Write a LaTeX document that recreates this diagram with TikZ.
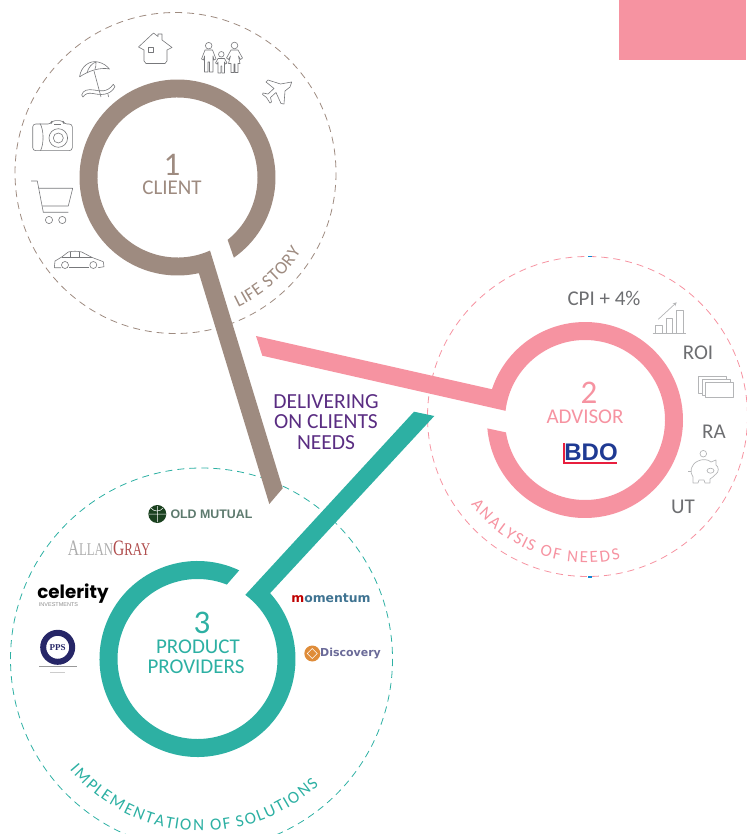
\documentclass[tikz,border=0pt]{standalone}
\usepackage{fontspec}
\setmainfont{Carlito}
\newfontfamily\logosans{DejaVu Sans}
\newfontfamily\logoarial{Liberation Sans}
\newfontfamily\logoserif{Liberation Serif}
\newfontfamily\logopop{Poppins}
\usetikzlibrary{calc}
\usetikzlibrary{decorations.text}
\usetikzlibrary{arrows}
\definecolor{clientcol}{HTML}{9E8B80}
\definecolor{advisorcol}{HTML}{F693A1}
\definecolor{providercol}{HTML}{2DB0A3}
\definecolor{deliverycol}{HTML}{5A2D82}
\definecolor{labelcol}{HTML}{6D6E71}
\definecolor{iconcol}{HTML}{77787B}
\definecolor{lighticon}{HTML}{B4B5B7}
\definecolor{bdoblue}{HTML}{1F3A93}
\definecolor{bdored}{HTML}{E81F3E}
\definecolor{mutualcol}{HTML}{5D7A6E}
\definecolor{momentcol}{HTML}{3F7391}
\definecolor{discovcol}{HTML}{6A6A98}
\tikzset{
  orbit/.style={line width=0.8pt, dash pattern=on 7pt off 5pt},
  bigdigit/.style={font=\fontsize{33}{33}\selectfont},
  ringname/.style={font=\fontsize{21}{21}\selectfont, align=center},
  metric/.style={font=\fontsize{21}{21}\selectfont, text=labelcol},
  icon/.style={draw=iconcol, line width=0.6pt, line join=round},
  paleicon/.style={draw=lighticon, line width=0.7pt, line join=round}
}
\begin{document}
\begin{tikzpicture}[x=1pt,y=-1pt]
\useasboundingbox (0,0) rectangle (746,834);
\def \rout {98}
\def \rin {80}

\coordinate (c1) at (177.5,177.5);
\coordinate (c2) at (585,420);
\coordinate (c3) at (197.5,659);
\coordinate (o1) at (175.5,173);
\coordinate (o2) at (587.5,416.5);
\coordinate (o3) at (201.5,659);

\fill[advisorcol] (619,0) rectangle (746,60);

% dashed orbits
\draw[orbit, clientcol] (o1) circle (160.5);
\draw[orbit, advisorcol] (o2) circle (160);
\draw[orbit, providercol] (o3) circle (191);
\fill[cyan!70!blue] (588,255.8) rectangle (592,257.2);
\fill[cyan!70!blue] (588,576.2) rectangle (592,577.6);

% rings with their arms
\fill[clientcol] ($(c1)+(54.9:\rout)$) arc[start angle=54.9, end angle=-282.6, radius=\rout]
  -- (269.3,504) -- (282.7,488.3) -- ($(c1)+(-294:\rin)$)
  arc[start angle=-294, end angle=51.2, radius=\rin] -- cycle;
\fill[advisorcol] ($(c2)+(-184.9:\rout)$) arc[start angle=-184.9, end angle=-521.7, radius=\rout]
  -- (256,336) -- (262.3,355.7) -- ($(c2)+(-173.4:\rin)$)
  arc[start angle=-173.4, end angle=171.1, radius=\rin] -- cycle;
\fill[providercol] ($(c3)+(-64.8:\rout)$) arc[start angle=-64.8, end angle=-402.2, radius=\rout]
  -- (434.3,416) -- (414,411.7) -- ($(c3)+(-53.3:\rin)$)
  arc[start angle=-53.3, end angle=291.5, radius=\rin] -- cycle;

% ring texts
\node[bigdigit, text=clientcol] (one) at (172,165) {1};
\node[ringname, text=clientcol] (client) at (172,188) {CLIENT};
\node[bigdigit, text=advisorcol] (two) at (589,393) {2};
\node[ringname, text=advisorcol] (advisor) at (585,417) {ADVISOR};
\node[bigdigit, text=providercol] (three) at (202,623) {3};
\node[ringname, text=providercol] (product) at (198,647) {PRODUCT};
\node[ringname, text=providercol] (providers) at (196,667) {PROVIDERS};
\node[ringname, text=deliverycol, font=\fontsize{21.5}{20.7}\selectfont] (delivering) at (326,422) {DELIVERING\\ON CLIENTS\\NEEDS};

% texts on the orbits
\path[decorate, decoration={text effects along path, text={LIFE STORY}, text effects/.cd, text along path, fit text to path,
  characters={text=clientcol, font=\fontsize{18}{18}\selectfont}}]
  ($(o1)+(65:148)$) arc[start angle=65, end angle=32, radius=148];
\path[decorate, decoration={text effects along path, text={ANALYSIS OF NEEDS}, text effects/.cd, text along path, fit text to path,
  characters={text=advisorcol, font=\fontsize{17}{17}\selectfont}}]
  ($(o2)+(143:146)$) arc[start angle=143, end angle=77, radius=146];
\path[decorate, decoration={text effects along path, text={IMPLEMENTATION OF SOLUTIONS}, text effects/.cd, text along path, fit text to path,
  characters={text=providercol, font=\fontsize{17}{17}\selectfont}}]
  ($(o3)+(140:172)$) arc[start angle=140, end angle=47, radius=172];

% advisor metrics
\node[metric] (cpi) at (604,298) {CPI + 4\%};
\node[metric] (roi) at (698,353) {ROI};
\node[metric] (ra) at (714,432) {RA};
\node[metric] (ut) at (683,507) {UT};

% bdo logo
\node[font=\logoarial\bfseries\fontsize{24}{24}\selectfont, text=bdoblue, inner sep=0pt] (bdo) at (591,452) {BDO};
\fill[bdored] (562.5,443) rectangle (565,463.5);
\fill[bdored] (562.5,461.5) rectangle (617,463.5);

% client icons
\draw[icon] (144,50) -- (138.5,47) -- (153.5,33) -- (158,36.5) -- (158,34) -- (162,34) -- (162,40) -- (172,47.5)
  -- (167,50) -- (167,61) -- (165,63.5) -- (146,63.5) -- (144,61) -- cycle;
\draw[icon] (148.5,47.5) rectangle (153.5,52.5);
\draw[icon] (208.7,45.7) circle (3.3);
\draw[icon] (205,50) -- (212.5,50) -- (216,59) -- (214,60) -- (213,56) -- (213,72) -- (209.5,72) -- (209.5,62)
  -- (208,62) -- (208,72) -- (204.5,72) -- (204.5,56) -- (203.5,60) -- (201.5,59) -- cycle;
\draw[icon] (234.5,45.5) circle (3.3);
\draw[icon] (231,50) -- (238,50) -- (242.5,58) -- (240.5,59.5) -- (238.5,56) -- (240,63.5) -- (238,63.5) -- (238,72.5)
  -- (235,72.5) -- (235,64) -- (234,64) -- (234,72.5) -- (231,72.5) -- (231,63.5) -- (228.5,63.5) -- (230.5,56)
  -- (228.5,59.5) -- (226.5,58) -- cycle;
\draw[icon] (221.3,54.3) circle (2.8);
\draw[icon] (218,58.5) -- (224.5,58.5) -- (227,63) -- (225.5,64) -- (224.5,62) -- (224.5,73) -- (221.8,73) -- (221.8,66)
  -- (220.8,66) -- (220.8,73) -- (218,73) -- (218,62) -- (217,64) -- (215.5,63) -- cycle;
\draw[icon] (291.7,82) -- (280.5,84) -- (268,80) -- (266,82) -- (274,88.5) -- (268,94) -- (263,93) -- (262.5,94.5)
  -- (266.5,97.5) -- (270,103) -- (271.5,102) -- (270.5,97.5) -- (276,92.5) -- (281,103.5) -- (284,104) -- (285,91)
  -- (290,87) -- cycle;
% umbrella
\draw[icon] (79.5,77) .. controls (81,66) and (90,60) .. (98,62) .. controls (103,63) and (107,66) .. (109.5,69)
  .. controls (100,67) and (88,71) .. (79.5,77);
\draw[icon] (87,73) .. controls (88,68) and (92,63) .. (96,62) .. controls (96,65) and (96,67) .. (95,69);
\draw[icon] (94,71) -- (101,97);
\draw[icon] (81.7,95) .. controls (83,90) and (88,89) .. (94,90) .. controls (100,91) and (107,93) .. (113.3,84.3)
  -- (115,86.7) .. controls (110,96) and (100,95) .. (93,93.5) .. controls (88,92.5) and (85,94) .. (83,97) -- cycle;
\draw[icon] (108,94) -- (108.5,97);
% camera
\draw[icon, rounded corners=3pt] (32.7,124) -- (51,124) -- (52,120.7) -- (63,120.7) -- (64,124) -- (72.3,124) -- (72.3,150.7) -- (32.7,150.7) -- cycle;
\draw[icon] (40,123.5) .. controls (44,130) and (44,144) .. (40.5,150.7);
\draw[icon] (58.3,138) circle (9.3);
\draw[icon] (58.3,138) circle (5);
\draw[icon] (54,124.3) -- (61,124.3);
% cart
\draw[icon] (31,181) -- (37.3,181) -- (43.3,212.3) -- (68.3,212.3);
\draw[icon] (39,188.3) -- (72.7,188.3) -- (68.3,206) -- (42.3,206);
\draw[icon] (49,220) circle (3.6);
\draw[icon] (62.3,220) circle (3.6);
% car
\draw[icon] (61,267.7) -- (54.3,267.7) -- (55,261) -- (61.7,257) -- (68.3,252) .. controls (72,251) and (78,251) .. (81.7,252)
  -- (91.7,257.3) -- (103.3,261.7) -- (104,266.7) -- (98,267.7);
\draw[icon] (69,267.7) -- (89,267.7);
\draw[icon] (65,265) circle (3.5);
\draw[icon] (93.3,265) circle (3.5);
\draw[icon] (61.7,257.3) -- (91.7,257.3);
\draw[icon] (70,252) -- (70,257.3);
\draw[icon] (79.3,252) -- (79.3,257.3);

% advisor icons
\draw[paleicon] (652.7,333.3) -- (685.7,333.3);
\foreach \bx/\by in {655.7/325.7, 666/318.3, 676.7/310.7}
  \draw[paleicon] (\bx,333.3) -- (\bx,\by) -- +(6.6,0) -- (\bx+6.6,333.3);
\draw[paleicon, ->, >=stealth] (658.3,319.3) -- (676.7,302.3);
\foreach \cx/\cy/\cw/\ch in {698.3/376/28.4/17, 702.7/379.3/27.5/16, 705.7/382.7/27.6/15}
  \draw[paleicon, fill=white] (\cx,\cy) rectangle +(\cw,\ch);
\draw[paleicon] (703.3,453.7) circle (3.3);
\draw[paleicon] (698,461) .. controls (702,459) and (708,459) .. (711,462) -- (716,460) -- (716,465)
  .. controls (719,467) and (719,472) .. (716,474) .. controls (714,476) and (712,478) .. (710,479) -- (710,483) -- (705,483)
  -- (704,480) -- (699,480) -- (698,483) -- (693,483) -- (693,477) .. controls (689,472) and (691,464) .. (698,461);
\draw[paleicon] (710.5,470.7) ellipse (3.5 and 2.5);
\draw[paleicon] (691,471.5) -- (688,471.5);

% provider logos
\fill[mutualcol!70!green!40!black] (157.3,514) circle (9);
\draw[white, line width=0.5pt] (148.5,514) -- (166,514) (157.3,506) -- (157.3,522) (151,508) .. controls (154,512) and (160,512) .. (163,508);
\node[font=\logoarial\bfseries\fontsize{12.4}{12}\selectfont, text=mutualcol, inner sep=0pt] (oldmutual) at (211.5,514.5) {OLD MUTUAL};
\node[font=\logoserif, inner sep=0pt] (allangray) at (109,548)
  {\scalebox{.71}[1]{\fontsize{22}{22}\selectfont\textcolor{black!32}{A}\fontsize{18}{18}\selectfont\textcolor{black!32}{LLAN}\fontsize{22}{22}\selectfont\textcolor{red!55!black!70}{G}\fontsize{18}{18}\selectfont\textcolor{red!55!black!70}{RAY}}};
\node[font=\logopop\bfseries\fontsize{18.3}{18.3}\selectfont, text=black, inner sep=0pt] (celerity) at (73,594) {celerity};
\node[font=\logoarial\fontsize{5.5}{5.5}\selectfont, text=black!45, inner sep=0pt] (investments) at (58.5,605) {INVESTMENTS};
\draw[blue!30!black!85, line width=6pt] (57.7,647.3) circle (14.5);
\node[font=\logoserif\bfseries\fontsize{9}{9}\selectfont, text=blue!30!black!85, inner sep=0pt] (pps) at (57.7,647.3) {PPS};
\fill[black!40] (38.5,665.8) rectangle (77,667.4);
\fill[black!20] (50,671.5) rectangle (65,672.7);
\node[font=\logosans\bfseries\fontsize{12.4}{12.4}\selectfont, inner sep=0pt] (momentum) at (331,598)
  {\textcolor{red!75!black}{m}\textcolor{momentcol}{omentum}};
\fill[orange!45!brown!90] (312.3,653.5) circle (8);
\draw[white, line width=0.5pt] (312.3,648.5) -- (317.3,653.5) -- (312.3,658.5) -- (307.3,653.5) -- cycle;
\node[font=\logosans\bfseries\fontsize{11}{11}\selectfont, text=discovcol, inner sep=0pt] (discovery) at (350.5,654) {Discovery};
\end{tikzpicture}
\end{document}
